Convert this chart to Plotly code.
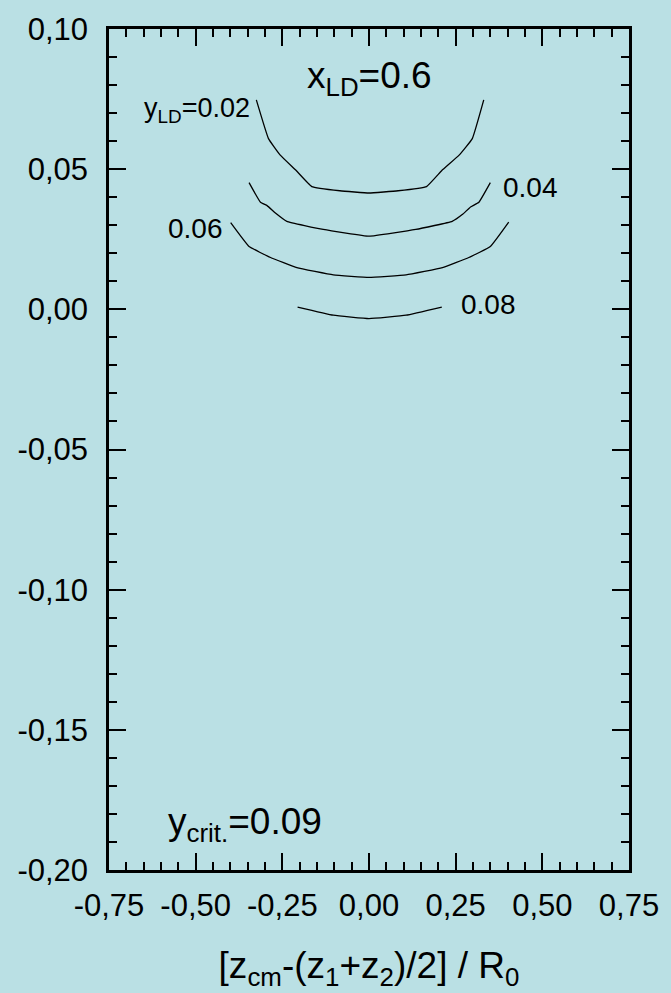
import plotly.graph_objects as go

# Contour lines of constant y_LD (x_LD = 0.6)
x_002 = [-0.325, -0.29, -0.256, -0.21, -0.165, -0.084, 0.0, 0.084, 0.166, 0.21, 0.26, 0.298, 0.331]
y_002 = [0.0747, 0.0609, 0.0550, 0.0495, 0.0438, 0.0423, 0.0415, 0.0423, 0.0438, 0.0495, 0.0550, 0.0609, 0.0747]

x_004 = [-0.346, -0.313, -0.294, -0.270, -0.237, -0.132, 0.0, 0.135, 0.240, 0.269, 0.293, 0.317, 0.350]
y_004 = [0.0452, 0.0382, 0.0370, 0.0344, 0.0314, 0.0285, 0.0261, 0.0285, 0.0314, 0.0338, 0.0365, 0.0382, 0.0452]

x_006 = [-0.399, -0.346, -0.284, -0.208, -0.103, 0.0, 0.107, 0.212, 0.288, 0.350, 0.403]
y_006 = [0.0309, 0.0224, 0.0185, 0.0149, 0.0123, 0.0114, 0.0123, 0.0149, 0.0185, 0.0224, 0.0311]

x_008 = [-0.206, -0.103, 0.0, 0.107, 0.210]
y_008 = [0.0008, -0.0021, -0.0033, -0.0021, 0.0008]

x_tickvals = [-0.75, -0.50, -0.25, 0.00, 0.25, 0.50, 0.75]
x_ticktext = ["-0,75", "-0,50", "-0,25", "0,00", "0,25", "0,50", "0,75"]
y_tickvals = [0.10, 0.05, 0.00, -0.05, -0.10, -0.15, -0.20]
y_ticktext = ["0,10", "0,05", "0,00", "-0,05", "-0,10", "-0,15", "-0,20"]

BG = "#bae0e4"
FONT = "Liberation Sans, Arial, sans-serif"

fig = go.Figure()
for xs, ys in [(x_002, y_002), (x_004, y_004), (x_006, y_006), (x_008, y_008)]:
    fig.add_trace(go.Scatter(x=xs, y=ys, mode="lines",
                             line=dict(color="black", width=1.3, shape="spline", smoothing=0.3),
                             showlegend=False, hoverinfo="skip"))

axis_common = dict(
    showgrid=False, zeroline=False,
    showline=True, linecolor="black", linewidth=2.5, mirror="allticks",
    ticks="inside", ticklen=17, tickwidth=2, tickcolor="black",
    tickmode="array",
    tickfont=dict(family=FONT, size=31, color="black"),
)

fig.update_xaxes(**axis_common, range=[-0.75, 0.75],
                 tickvals=x_tickvals, ticktext=x_ticktext,
                 ticklabelstandoff=6,
                 minor=dict(ticks="inside", ticklen=8, tickwidth=2,
                            tickcolor="black", dtick=0.05, tick0=0),
                 title=dict(text="[z<sub>cm</sub>-(z<sub>1</sub>+z<sub>2</sub>)/2] / R<sub>0</sub>",
                            font=dict(family=FONT, size=37, color="black"),
                            standoff=31))
fig.update_yaxes(**axis_common, range=[-0.20, 0.10],
                 tickvals=y_tickvals, ticktext=y_ticktext,
                 ticklabelstandoff=12,
                 minor=dict(ticks="inside", ticklen=8, tickwidth=2,
                            tickcolor="black", dtick=0.01, tick0=0))

def label(text, x, y, size, xanchor="center", yanchor="middle"):
    fig.add_annotation(x=x, y=y, xref="x", yref="y", text=text, showarrow=False,
                       xanchor=xanchor, yanchor=yanchor,
                       font=dict(family=FONT, size=size, color="black"))

label("x<sub>LD</sub>=0.6", 0.0, 0.0825, 37)
label("y<sub>LD</sub>=0.02", -0.338, 0.071, 27, xanchor="right")
label("0.04", 0.382, 0.0435, 28, xanchor="left")
label("0.06", -0.416, 0.029, 28, xanchor="right")
label("0.08", 0.2605, 0.0017, 28, xanchor="left")
label("y<sub>crit.</sub>=0.09", -0.585, -0.1835, 37, xanchor="left")

fig.update_layout(
    width=671, height=993,
    margin=dict(l=109, r=38, t=21, b=123),
    paper_bgcolor=BG, plot_bgcolor=BG,
    font=dict(family=FONT, color="black"),
)

fig.write_html("out.html")
